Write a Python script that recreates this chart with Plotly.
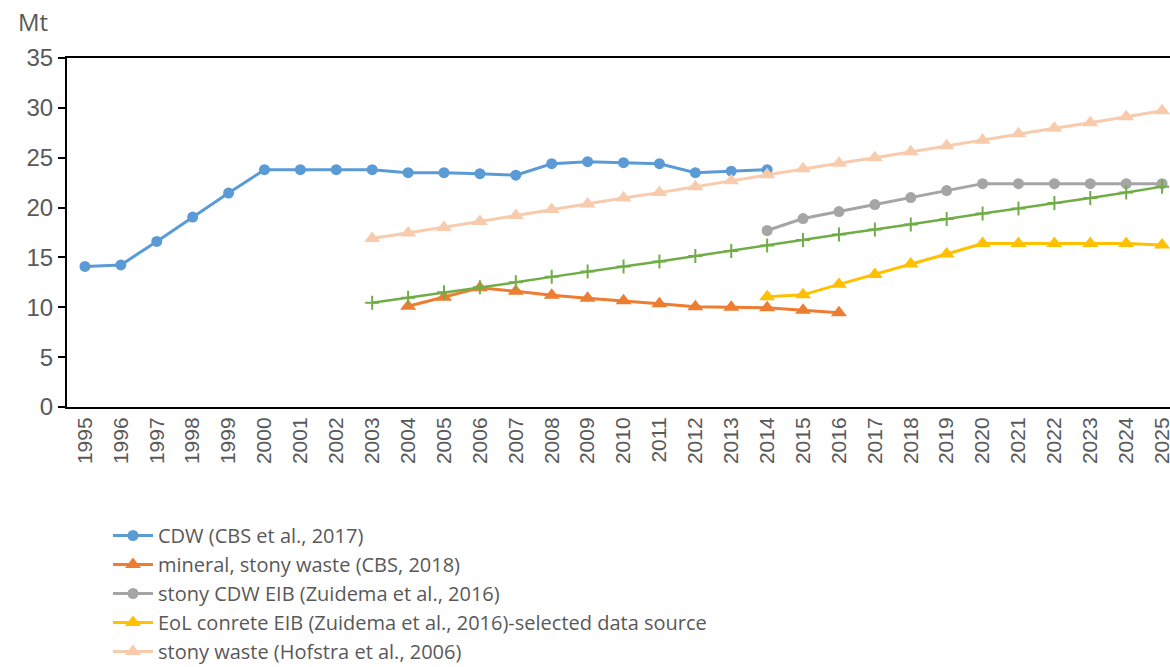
import plotly.graph_objects as go

years = [str(y) for y in range(1995, 2026)]

cdw_years = [str(y) for y in range(1995, 2015)]
cdw_vals = [14.1, 14.25, 16.6, 19.05, 21.45, 23.8, 23.8, 23.8, 23.8, 23.5, 23.5,
            23.4, 23.25, 24.4, 24.6, 24.5, 24.4, 23.5, 23.65, 23.8]

mineral_years = [str(y) for y in range(2004, 2017)]
mineral_vals = [10.1, 11.0, 11.95, 11.6, 11.2, 10.9, 10.65, 10.35, 10.05, 10.0, 9.95, 9.7, 9.45]

stony_cdw_years = [str(y) for y in range(2014, 2026)]
stony_cdw_vals = [17.7, 18.9, 19.6, 20.3, 21.0, 21.7, 22.4, 22.4, 22.4, 22.4, 22.4, 22.4]

eol_years = [str(y) for y in range(2014, 2026)]
eol_vals = [11.05, 11.25, 12.3, 13.3, 14.35, 15.35, 16.4, 16.4, 16.4, 16.4, 16.4, 16.25]

hofstra_years = [str(y) for y in range(2003, 2026)]
hofstra_vals = [16.9, 17.45, 18.0, 18.6, 19.2, 19.8, 20.35, 20.95, 21.5, 22.1, 22.7, 23.3,
                23.9, 24.45, 25.0, 25.6, 26.2, 26.75, 27.4, 27.95, 28.5, 29.1, 29.7]

green_years = [str(y) for y in range(2003, 2026)]
green_vals = [10.45, 10.95, 11.5, 12.0, 12.5, 13.05, 13.6, 14.1, 14.6, 15.15, 15.65, 16.2,
              16.75, 17.3, 17.8, 18.3, 18.85, 19.4, 19.9, 20.45, 20.95, 21.5, 22.1]

names = [
    "CDW (CBS et al., 2017)",
    "mineral, stony waste (CBS, 2018)",
    "stony CDW EIB (Zuidema et al., 2016)",
    "EoL conrete EIB (Zuidema et al., 2016)-selected data source",
    "stony waste (Hofstra et al., 2006)",
]

fig = go.Figure()

def add(x, y, name, color, symbol, size, width=3, show=True):
    fig.add_trace(go.Scatter(
        x=x, y=y, name=name, mode="lines+markers",
        line=dict(color=color, width=width),
        marker=dict(color=color, symbol=symbol, size=size,
                    line=dict(color=color, width=0)),
        showlegend=show,
    ))

add(cdw_years, cdw_vals, names[0], "#5B9BD5", "circle", 11)
add(mineral_years, mineral_vals, names[1], "#ED7D31", "triangle-up", 14)
add(stony_cdw_years, stony_cdw_vals, names[2], "#A5A5A5", "circle", 11)
add(eol_years, eol_vals, names[3], "#FFC000", "triangle-up", 14)
add(hofstra_years, hofstra_vals, names[4], "#F8CBAD", "triangle-up", 14)
fig.add_trace(go.Scatter(
    x=green_years, y=green_vals, mode="lines+markers", showlegend=False,
    line=dict(color="#70AD47", width=2.5),
    marker=dict(symbol="cross-thin", size=10, line=dict(color="#70AD47", width=2)),
))

fig.update_layout(
    width=1170, height=667,
    margin=dict(l=67, r=0, t=58, b=260, autoexpand=False),
    plot_bgcolor="white", paper_bgcolor="white",
    font=dict(family="Liberation Sans, Arial", color="#595959"),
    legend=dict(
        xref="container", yref="container",
        x=0.0923, y=0.2264, xanchor="left", yanchor="top",
        font=dict(family="Open Sans", size=20, color="#595959"),
        bgcolor="rgba(0,0,0,0)",
        itemwidth=40,
    ),
    annotations=[dict(
        text="Mt", xref="paper", yref="paper", x=-0.031, y=1.105,
        xanchor="center", yanchor="middle", showarrow=False,
        font=dict(family="Open Sans", size=24, color="#595959"),
    )],
)

fig.update_xaxes(
    type="category", categoryorder="array", categoryarray=years,
    tickvals=years, ticktext=years,
    range=[-0.5, 30.22],
    tickangle=-90, tickfont=dict(size=21, color="#595959"),
    showline=True, linecolor="black", linewidth=2, mirror=True,
    showgrid=False, ticks="", zeroline=False, automargin=False,
)
fig.update_yaxes(
    range=[0, 35], dtick=5, tickfont=dict(size=24, color="#595959"),
    showline=True, linecolor="black", linewidth=2,
    ticks="outside", ticklen=7, tickcolor="black", tickwidth=2,
    showgrid=False, zeroline=False, automargin=False,
)

fig.write_html("out.html", config={"displayModeBar": False},
               post_script="document.body.style.margin='0px';")
